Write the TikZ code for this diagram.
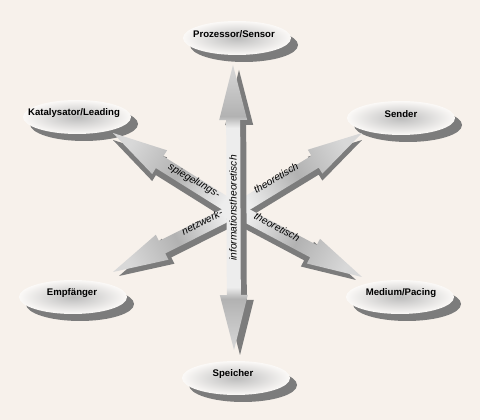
\documentclass[tikz,border=0pt]{standalone}
\usepackage{fontspec}
\setmainfont{Liberation Sans}
\usetikzlibrary{shapes.geometric,shadows,calc}

\definecolor{bgcolor}{HTML}{F7F1EB}
\definecolor{ellgray}{HTML}{BDBDBD}
\definecolor{ellwhite}{HTML}{FBF9F7}
\definecolor{shadowgray}{HTML}{7C7C7C}
\definecolor{arrpale}{HTML}{EDEDED}
\definecolor{arrmid}{HTML}{B2B2B2}
\definecolor{arrlight}{HTML}{D8D8D8}

\pgfdeclareverticalshading{vshade}{100bp}{color(0bp)=(arrlight); color(25bp)=(arrlight); color(34bp)=(arrmid); color(36bp)=(arrpale); color(64bp)=(arrpale); color(66bp)=(arrmid); color(75bp)=(arrlight); color(100bp)=(arrlight)}

\tikzset{
  bubble/.style={ellipse, minimum width=108pt, minimum height=34pt, inner sep=0pt,
    inner color=ellgray, outer color=ellwhite,
    drop shadow={shadow xshift=7pt, shadow yshift=-7pt, fill=shadowgray, opacity=1}},
  bubbletext/.style={font=\bfseries\fontsize{9.6}{11}\selectfont},
  arrowtext/.style={font=\itshape\fontsize{10.2}{12}\selectfont, inner sep=0pt},
  arrowshadow/.style={fill=shadowgray},
  arrowbody/.style={bottom color=arrpale, top color=arrlight, middle color=arrmid},
  bigarrow/.style={to path={
    ($(\tikztostart)!7pt!90:(\tikztotarget)$)
    -- ($(\tikztotarget)!55.44pt!-7.25:(\tikztostart)$)
    -- ($(\tikztotarget)!56.75pt!-14.28:(\tikztostart)$)
    -- (\tikztotarget)
    -- ($(\tikztotarget)!56.75pt!14.28:(\tikztostart)$)
    -- ($(\tikztotarget)!55.44pt!7.25:(\tikztostart)$)
    -- ($(\tikztostart)!7pt!-90:(\tikztotarget)$) -- cycle}},
  bigdoublearrow/.style={to path={
    (\tikztostart)
    -- ($(\tikztostart)!56.75pt!14.28:(\tikztotarget)$)
    -- ($(\tikztostart)!55.44pt!7.25:(\tikztotarget)$)
    -- ($(\tikztotarget)!55.44pt!-7.25:(\tikztostart)$)
    -- ($(\tikztotarget)!56.75pt!-14.28:(\tikztostart)$)
    -- (\tikztotarget)
    -- ($(\tikztotarget)!56.75pt!14.28:(\tikztostart)$)
    -- ($(\tikztotarget)!55.44pt!7.25:(\tikztostart)$)
    -- ($(\tikztostart)!55.44pt!-7.25:(\tikztotarget)$)
    -- ($(\tikztostart)!56.75pt!-14.28:(\tikztotarget)$) -- cycle}}
}

\begin{document}
\begin{tikzpicture}[x=1pt,y=1pt]
\path[use as bounding box, fill=bgcolor] (0,0) rectangle (480,420);

\node[bubble] (proz) at (237,382) {};
\node[bubble] (kat) at (77,303) {};
\node[bubble] (send) at (401,302) {};
\node[bubble] (emp) at (73,123) {};
\node[bubble] (med) at (400,123) {};
\node[bubble] (spe) at (236,42) {};

\node[bubbletext] (proz-lbl) at ([xshift=-3pt,yshift=4pt]proz) {Prozessor/Sensor};
\node[bubbletext] (kat-lbl) at ([xshift=-3pt,yshift=4pt]kat) {Katalysator/Leading};
\node[bubbletext] (send-lbl) at ([xshift=0pt,yshift=4pt]send) {Sender};
\node[bubbletext] (emp-lbl) at ([xshift=-1pt,yshift=4pt]emp) {Empfänger};
\node[bubbletext] (med-lbl) at ([xshift=1pt,yshift=4pt]med) {Medium/Pacing};
\node[bubbletext] (spe-lbl) at ([xshift=-3pt,yshift=4pt]spe) {Speicher};

\coordinate (c) at (236,210);
\coordinate (top) at (233,355);
\coordinate (bottom) at (234,70);
\coordinate (kat-in) at (113,287);
\coordinate (emp-in) at (113,148);
\coordinate (send-in) at (362,287);
\coordinate (med-in) at (362,143);

\path[arrowshadow, transform canvas={shift={(0,-7)}}] (c) to[bigarrow] (kat-in);
\path[arrowbody, shading angle=58] (c) to[bigarrow] (kat-in);
\path[arrowshadow, transform canvas={shift={(6,-4)}}] (c) to[bigarrow] (emp-in);
\path[arrowbody, shading angle=117] (c) to[bigarrow] (emp-in);
\path[arrowshadow, transform canvas={shift={(0,-7)}}] (c) to[bigarrow] (send-in);
\path[arrowbody, shading angle=-59] (c) to[bigarrow] (send-in);
\path[arrowshadow, transform canvas={shift={(-6,-3)}}] (c) to[bigarrow] (med-in);
\path[arrowbody, shading angle=-118] (c) to[bigarrow] (med-in);

\path[arrowshadow, transform canvas={shift={(6,-5)}}] (bottom) to[bigdoublearrow] (top);
\path[shade, shading=vshade] (bottom) to[bigdoublearrow] (top);

\node[arrowtext, rotate=90] (info) at (233,212) {informationstheoretisch};
\node[arrowtext, rotate=-30] (spieg) at (194,239) {spiegelungs-};
\node[arrowtext, rotate=27] (netz) at (202,198) {netzwerk-};
\node[arrowtext, rotate=31] (theo-up) at (276,242) {theoretisch};
\node[arrowtext, rotate=-28] (theo-down) at (277,193) {theoretisch};
\end{tikzpicture}
\end{document}
